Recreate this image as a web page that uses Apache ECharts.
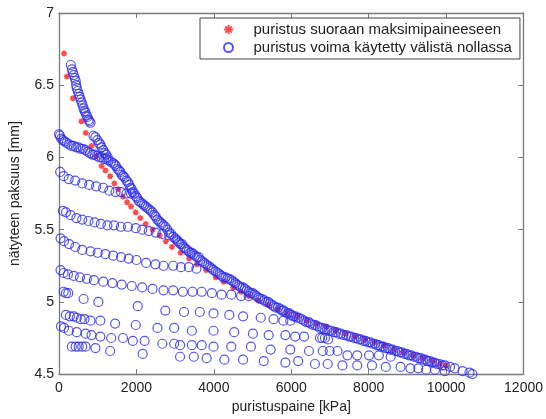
<!DOCTYPE html>
<html>
<head>
<meta charset="utf-8">
<script src="https://cdn.jsdelivr.net/npm/echarts@6/dist/echarts.min.js"></script>
<style>
html,body{margin:0;padding:0;background:#fff;}
#chart{width:546px;height:419px;}
</style>
</head>
<body>
<div id="chart"></div>
<script>
// ---- data (pressure kPa, thickness mm) ----
var xTicks = [0, 2000, 4000, 6000, 8000, 10000, 12000];
var yTicks = [4.5, 5, 5.5, 6, 6.5, 7];

var redDirect = [
  [130,6.72],[200,6.56],[360,6.41],[580,6.25],[690,6.17],[840,6.08],[960,6.01],
  [1100,5.94],[1200,5.91],[1320,5.87],[1430,5.82],[1530,5.78],[1650,5.73],[1760,5.69],
  [1860,5.66],[1980,5.62],[2100,5.58],[2240,5.54],[2420,5.50],[2600,5.46],[2760,5.42],
  [2920,5.38],[3140,5.34],[3360,5.30],[3560,5.26],[3800,5.22],[4050,5.17],[4250,5.14],
  [4500,5.10],[4700,5.07],[4900,5.04],[5150,5.01],[5400,4.98],[5650,4.95],[5900,4.92],
  [6150,4.90],[6400,4.87],[6650,4.85],[6900,4.83],[7150,4.80],[7400,4.78],[7650,4.76],
  [7900,4.74],[8150,4.72],[8400,4.70],[8650,4.67],[8900,4.65],[9150,4.63],[9400,4.61],
  [9650,4.59],[9850,4.57],[10000,4.56]
];

var blueFirstLoad = [
  [305,6.64],[331,6.61],[356,6.59],[381,6.57],[407,6.55],[432,6.53],[445,6.50],[458,6.48],
  [483,6.46],[509,6.44],[534,6.42],[560,6.40],[585,6.38],[610,6.36],[636,6.34],[661,6.32],
  [687,6.31],[712,6.29],[738,6.28],[763,6.26],[790,6.25],[814,6.24]
];
var blueReloadA = [
  [0,6.16],[25,6.15],[60,6.13],[100,6.12],[150,6.11],[200,6.10],[260,6.09],[320,6.08],
  [380,6.08],[440,6.07],[500,6.07],[560,6.06],[620,6.06],[680,6.05],[740,6.04],[800,6.03],
  [860,6.02],[920,6.02],[980,6.01],[1040,6.00],[1100,6.00],[1160,5.99],[1220,5.99],
  [1280,5.98],[1340,5.97]
];
var blueSecondLoad = [
  [890,6.15],[940,6.14],[990,6.12],[1030,6.10],[1068,6.09],[1100,6.07],[1144,6.05],
  [1180,6.03],[1220,6.02],[1260,6.00]
];
var blueEnvelope = [
  [1400,5.96],[1440,5.95],[1475,5.94],[1510,5.92],[1550,5.91],[1585,5.90],[1620,5.88],
  [1660,5.87],[1700,5.86],[1740,5.84],[1780,5.83],[1815,5.81],[1850,5.79],[1880,5.78],
  [1907,5.76],[1945,5.75],[1983,5.73],[2020,5.72],[2060,5.70],[2100,5.69],[2150,5.68],
  [2195,5.67],[2240,5.66],[2285,5.65],[2330,5.64],[2370,5.63],[2416,5.62],[2460,5.60],
  [2500,5.59],[2540,5.57],[2580,5.56],[2620,5.55],[2660,5.54],[2700,5.53],[2746,5.52],
  [2800,5.50],[2848,5.48],[2900,5.47],[2950,5.45],[3000,5.44],[3040,5.43],[3070,5.42],
  [3102,5.41],[3140,5.40],[3178,5.40],[3220,5.38],[3260,5.37],[3300,5.36],[3350,5.35],
  [3390,5.34],[3430,5.34],[3470,5.33],[3509,5.32],[3560,5.31],[3610,5.31],[3650,5.29],
  [3700,5.28],[3750,5.27],[3800,5.26],[3850,5.25],[3900,5.24],[3945,5.23],[3990,5.22],
  [4050,5.21],[4100,5.20],[4150,5.19],[4200,5.18],[4250,5.17],[4300,5.17],[4350,5.16],
  [4400,5.16],[4450,5.15],[4500,5.14],[4550,5.13],[4600,5.12],[4650,5.11],[4700,5.10],
  [4750,5.10],[4800,5.09],[4850,5.08],[4900,5.07],[4950,5.06],[5000,5.06],[5050,5.05],
  [5100,5.04],[5150,5.03],[5200,5.02],[5250,5.02],[5300,5.01],[5350,5.00],[5400,5.00],
  [5450,4.99],[5500,4.98],[5550,4.97],[5600,4.96],[5660,4.96],[5721,4.95],[5760,4.94],
  [5800,4.94],[5850,4.93],[5900,4.92],[5950,4.92],[6000,4.91],[6050,4.90],[6100,4.90],
  [6150,4.89],[6200,4.89],[6260,4.88],[6330,4.87],[6390,4.86],[6450,4.86],[6500,4.85],
  [6560,4.84],[6620,4.84],[6680,4.83],[6740,4.82],[6800,4.82],[6860,4.81],[6920,4.81],
  [6980,4.80],[7040,4.80],[7100,4.79],[7160,4.79],[7220,4.78],[7280,4.78],[7350,4.77],
  [7424,4.77],[7490,4.76],[7550,4.76],[7620,4.75],[7680,4.75],[7740,4.74],[7800,4.74],
  [7860,4.73],[7920,4.73],[7980,4.72],[8040,4.72],[8100,4.71],[8160,4.71],[8210,4.70],
  [8263,4.70],[8320,4.69],[8380,4.69],[8440,4.68],[8500,4.68],[8560,4.67],[8620,4.67],
  [8680,4.66],[8740,4.66],[8800,4.65],[8860,4.65],[8920,4.64],[8980,4.64],[9040,4.63],
  [9102,4.63],[9160,4.62],[9220,4.62],[9280,4.61],[9340,4.61],[9400,4.60],[9460,4.60],
  [9520,4.59],[9580,4.59],[9640,4.58],[9700,4.58],[9760,4.57],[9830,4.57],[9900,4.56],
  [9967,4.56],[10100,4.55],[10221,4.54],[10425,4.52],[10603,4.51],[10679,4.50]
];
var blueReloadB = [
  [30,5.90],[120,5.87],[250,5.85],[420,5.84],[600,5.82],[780,5.81],[960,5.80],[1140,5.79],
  [1300,5.77],[1460,5.76],[1600,5.76],[1740,5.75],[1860,5.75]
];
var blueReloadC = [
  [100,5.63],[180,5.62],[300,5.60],[450,5.58],[600,5.57],[760,5.56],[920,5.55],[1080,5.54],
  [1250,5.53],[1420,5.53],[1600,5.52],[1780,5.52],[1983,5.51],[2150,5.50],[2320,5.49],
  [2500,5.48],[2670,5.47],[2848,5.46]
];
var blueReloadD = [
  [40,5.44],[130,5.42],[260,5.40],[420,5.38],[600,5.36],[814,5.35],[1000,5.34],[1200,5.33],
  [1400,5.32],[1602,5.31],[1800,5.30],[2000,5.29],[2250,5.27],[2492,5.26],[2700,5.25],
  [2950,5.25],[3150,5.24],[3356,5.24],[3550,5.23]
];
var blueReloadE = [
  [40,5.22],[120,5.20],[230,5.19],[380,5.18],[540,5.17],[720,5.16],[900,5.15],[1144,5.14],
  [1380,5.13],[1620,5.12],[1880,5.11],[2150,5.10],[2416,5.09],[2700,5.08],[2950,5.08],
  [3200,5.07],[3450,5.07],[3687,5.07],[3950,5.06],[4200,5.05],[4450,5.05],[4704,5.04],[4900,5.04]
];
var blueReloadF = [
  [120,5.07],[180,5.06],[240,5.06],[636,5.02],[1017,5.00],[2034,4.97],[2746,4.94],
  [3229,4.93],[3636,4.93],[3992,4.92],[4399,4.91],[4755,4.90],[5212,4.89],[5543,4.88],
  [5797,4.87],[5975,4.87]
];
var blueReloadG = [
  [178,4.91],[280,4.90],[380,4.90],[458,4.89],[560,4.88],[660,4.88],[814,4.87],[1068,4.87],
  [1449,4.85],[1983,4.84],[2543,4.82],[2975,4.82],[3432,4.80],[3992,4.80],[4526,4.79],
  [5009,4.78],[5416,4.77],[5848,4.77],[6102,4.76],[6331,4.76],[6740,4.75],[6800,4.75],
  [6870,4.75],[6950,4.74]
];
var blueReloadH = [
  [51,4.83],[130,4.82],[254,4.80],[458,4.79],[687,4.78],[839,4.77],[1068,4.76],[1348,4.75],
  [1653,4.75],[1907,4.73],[2212,4.73],[2670,4.71],[2975,4.71],[3127,4.70],[3432,4.70],
  [3687,4.70],[3992,4.69],[4450,4.69],[4958,4.69],[5467,4.67],[5975,4.67],[6458,4.66],
  [6814,4.66],[6992,4.66],[7195,4.66],[7450,4.63],[7704,4.63],[8009,4.63],[8263,4.63],[8568,4.62]
];
var blueReloadI = [
  [331,4.69],[430,4.69],[509,4.69],[600,4.69],[687,4.69],[941,4.68],[1322,4.66],[2161,4.64],
  [3127,4.62],[3483,4.62],[3814,4.61],[4272,4.60],[4755,4.60],[5289,4.59],[5848,4.58],
  [6179,4.59],[6611,4.57],[6941,4.57],[7322,4.56],[7704,4.56],[8085,4.56],[8441,4.55],
  [8823,4.55],[9077,4.54],[9280,4.54],[9484,4.53],[9713,4.53],[9967,4.52]
];

var redName = 'puristus suoraan maksimipaineeseen';
var blueName = 'puristus voima käytetty välistä nollassa';

var bluePoints = [].concat(blueFirstLoad, blueReloadA, blueSecondLoad, blueEnvelope,
  blueReloadB, blueReloadC, blueReloadD, blueReloadE, blueReloadF, blueReloadG,
  blueReloadH, blueReloadI);

var FONT = 'Liberation Sans, Arial, Helvetica, sans-serif';
var TXT = '#222';
var AX = '#7a7a7a';

var chart = echarts.init(document.getElementById('chart'), null, {renderer: 'canvas'});

function xAx(pos, labels) {
  return {
    type: 'value', position: pos, min: xTicks[0], max: xTicks[xTicks.length - 1],
    interval: xTicks[1] - xTicks[0],
    name: labels ? 'puristuspaine [kPa]' : '', nameLocation: 'middle', nameGap: 22,
    nameTextStyle: {fontFamily: FONT, fontSize: 14, color: TXT},
    axisLine: {show: true, onZero: false, lineStyle: {color: AX, width: 1.3}},
    axisTick: {show: true, inside: true, length: 5, lineStyle: {color: AX}},
    axisLabel: {show: labels, margin: 7, fontFamily: FONT, fontSize: 14, color: TXT,
      formatter: function (v) { return String(v); }},
    splitLine: {show: false}
  };
}
function yAx(pos, labels) {
  return {
    type: 'value', position: pos, min: yTicks[0], max: yTicks[yTicks.length - 1],
    interval: yTicks[1] - yTicks[0],
    name: labels ? 'nätyteen paksuus [mm]' : '', nameLocation: 'middle', nameGap: 37,
    nameTextStyle: {fontFamily: FONT, fontSize: 14, color: TXT},
    axisLine: {show: true, onZero: false, lineStyle: {color: AX, width: 1.3}},
    axisTick: {show: true, inside: true, length: 5, lineStyle: {color: AX}},
    axisLabel: {show: labels, margin: 5, fontFamily: FONT, fontSize: 14, color: TXT,
      formatter: function (v) { return String(v); }},
    splitLine: {show: false}
  };
}

var option = {
  animation: false,
  backgroundColor: '#fff',
  grid: {left: 55, top: 13, right: 19, bottom: 43, containLabel: false},
  xAxis: [xAx('bottom', true), xAx('top', false)],
  yAxis: [yAx('left', true), yAx('right', false)],
  legend: {
    left: 200, top: 18, orient: 'vertical',
    padding: [4, 8, 4, 23], itemGap: 3, itemWidth: 40, itemHeight: 9,
    borderColor: '#444', borderWidth: 1, backgroundColor: '#fff',
    textStyle: {fontFamily: FONT, fontSize: 15, color: TXT},
    data: [redName, blueName]
  },
  series: [
    {
      name: redName, type: 'scatter', data: redDirect,
      symbol: 'path://M5,0L5,10M0,5L10,5M1.5,1.5L8.5,8.5M1.5,8.5L8.5,1.5',
      symbolKeepAspect: true, symbolSize: 6,
      itemStyle: {color: '#ff2020', borderColor: '#ff2020', borderWidth: 1.6},
      z: 2
    },
    {
      name: blueName, type: 'scatter', data: bluePoints,
      symbol: 'circle', symbolSize: 9,
      itemStyle: {color: 'rgba(255,255,255,0)', borderColor: '#2a2af0', borderWidth: 1.2},
      z: 3
    }
  ]
};
chart.setOption(option);
</script>
</body>
</html>
